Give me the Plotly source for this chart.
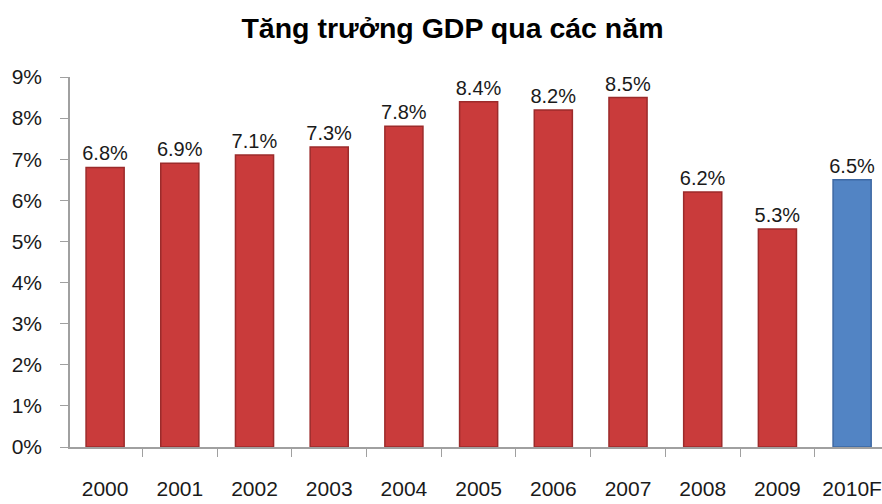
import plotly.graph_objects as go

YEARS = ["2000", "2001", "2002", "2003", "2004", "2005", "2006", "2007", "2008", "2009", "2010F"]
GROWTH = [6.8, 6.9, 7.1, 7.3, 7.8, 8.4, 8.2, 8.5, 6.2, 5.3, 6.5]
LABELS = [f"{v:.1f}%" for v in GROWTH]

RED = "#C93B3B"
BLUE = "#5284C4"
colors = [BLUE if y.endswith("F") else RED for y in YEARS]
borders = ["#3D68A3" if y.endswith("F") else "#9C2B2B" for y in YEARS]

FONT = "Liberation Sans, Arial, sans-serif"

fig = go.Figure(
    go.Bar(
        x=YEARS,
        y=GROWTH,
        text=LABELS,
        textposition="outside",
        constraintext="none",
        cliponaxis=False,
        textfont=dict(size=20, color="#1a1a1a", family=FONT),
        marker=dict(color=colors, line=dict(color=borders, width=1.5)),
    )
)

fig.update_layout(
    width=882,
    height=504,
    margin=dict(l=70, r=0, t=77, b=57, autoexpand=False),
    plot_bgcolor="white",
    paper_bgcolor="white",
    bargap=0.49,
    showlegend=False,
    font=dict(family=FONT, size=21, color="#1a1a1a"),
    title=dict(
        text="<b>Tăng trưởng GDP qua các năm</b>",
        x=0.513,
        xanchor="center",
        y=0.945,
        yanchor="middle",
        font=dict(size=28.5, color="#000000", family=FONT),
    ),
)

fig.update_xaxes(
    range=[-0.47, 10.4],
    automargin=False,
    showline=True,
    linecolor="#A0A0A0",
    linewidth=1.5,
    ticks="outside",
    tickson="boundaries",
    ticklen=8,
    tickcolor="#A0A0A0",
    ticklabelstandoff=22,
    showgrid=False,
)

fig.update_yaxes(
    range=[0, 9],
    dtick=1,
    ticksuffix="%",
    automargin=False,
    showline=True,
    linecolor="#A0A0A0",
    linewidth=1.5,
    ticks="outside",
    ticklen=8,
    tickcolor="#A0A0A0",
    ticklabelstandoff=14,
    showgrid=False,
    zeroline=False,
)

# the page's default body margin would shift the chart by 8px
fig.write_html(
    "out.html",
    config={"displayModeBar": False},
    post_script="document.body.style.margin='0';",
)
